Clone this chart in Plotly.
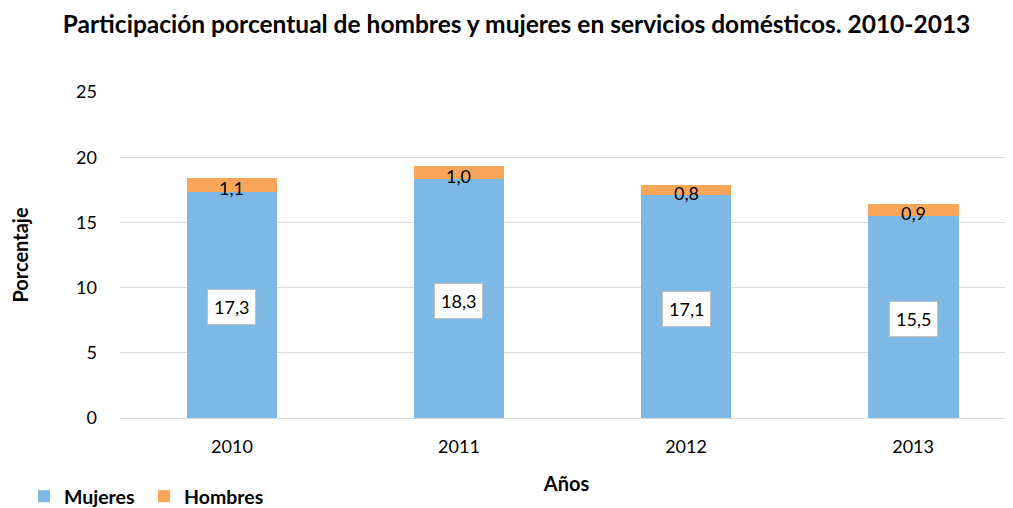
import plotly.graph_objects as go

years = ["2010", "2011", "2012", "2013"]
mujeres = [17.3, 18.3, 17.1, 15.5]
hombres = [1.1, 1.0, 0.8, 0.9]

BLUE = "#7DB9E4"
ORANGE = "#F9A65A"
FONT = "Lato"

def fmt(v):
    return f"{v:.1f}".replace(".", ",")

idx = list(range(len(years)))

fig = go.Figure()
fig.add_trace(go.Bar(x=idx, y=mujeres, name="<b>Mujeres</b>", marker_color=BLUE,
                     marker_line_width=0, width=0.4))
fig.add_trace(go.Bar(x=idx, y=hombres, name="<b>Hombres</b>", marker_color=ORANGE,
                     marker_line_width=0, width=0.4))

annotations = []
for i, m, h in zip(idx, mujeres, hombres):
    annotations.append(dict(x=i, y=m / 2, text=fmt(m), showarrow=False,
                            font=dict(family=FONT, size=18, color="black"),
                            bgcolor="white", bordercolor="#BFBFBF", borderwidth=1,
                            borderpad=6, xref="x", yref="y", yshift=-2))
    annotations.append(dict(x=i, y=m + h / 2, text=fmt(h), showarrow=False,
                            font=dict(family=FONT, size=18, color="black"),
                            xref="x", yref="y", yshift=-3))

fig.update_layout(
    barmode="stack",
    width=1005, height=500,
    margin=dict(l=112, r=0, t=84, b=90, autoexpand=False),
    paper_bgcolor="white", plot_bgcolor="white",
    title=dict(text="<b>Participación porcentual de hombres y mujeres en servicios domésticos. 2010-2013</b>",
               x=0.506, xanchor="center", y=1 - 16 / 500, yanchor="middle",
               font=dict(family=FONT, size=24.5, color="black")),
    font=dict(family=FONT, color="black"),
    xaxis=dict(range=[-0.493, 3.44], tickmode="array", tickvals=idx, ticktext=years,
               tickfont=dict(family=FONT, size=18, color="black"),
               showline=True, linecolor="#D9D9D9", linewidth=1,
               ticks="", showgrid=False, zeroline=False, ticklabelstandoff=12,
               title=dict(text="<b>Años</b>", font=dict(family=FONT, size=20, color="black"),
                          standoff=21)),
    yaxis=dict(range=[0, 25], dtick=5, showgrid=True, gridcolor="#D9D9D9", gridwidth=1,
               zeroline=False, ticks="", ticklabelstandoff=22,
               tickfont=dict(family=FONT, size=18, color="black"),
               title=dict(text="<b>Porcentaje</b>", font=dict(family=FONT, size=20, color="black"),
                          standoff=50)),
    legend=dict(orientation="h", x=(16 - 112) / 893, xanchor="left",
                y=-(469 - 410) / 326, yanchor="top",
                font=dict(family=FONT, size=19.5, color="black"),
                traceorder="normal", entrywidth=75, entrywidthmode="pixels",
                bgcolor="rgba(0,0,0,0)"),
    annotations=annotations,
)

fig.write_html("out.html")
